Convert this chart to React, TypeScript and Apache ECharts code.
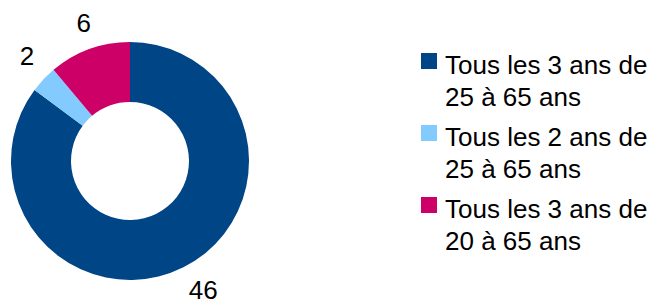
import React, { useEffect, useRef } from "react";
import * as echarts from "echarts";

const categories = [
  "Tous les 3 ans de 25 à 65 ans",
  "Tous les 2 ans de 25 à 65 ans",
  "Tous les 3 ans de 20 à 65 ans",
];
const values = [46, 2, 6];
const colors = ["#004586", "#83CAFF", "#CC0066"];

const FONT = "'Liberation Sans', Arial, sans-serif";

export default function App() {
  const ref = useRef<HTMLDivElement>(null);
  useEffect(() => {
    document.body.style.margin = "0";
    if (!ref.current) return;
    const chart = echarts.init(ref.current, undefined, { renderer: "svg" });
    const labelOffsets = [
      [6, -5],
      [6, -2],
      [5, 3],
    ];
    const data = categories.map((name, i) => ({
      name,
      value: values[i],
      itemStyle: { color: colors[i] },
    }));
    chart.setOption({
      animation: false,
      legend: {
        orient: "vertical",
        left: 421,
        top: 24,
        padding: 0,
        itemWidth: 16,
        itemHeight: 16,
        itemGap: -14,
        icon: "rect",
        selectedMode: false,
        data: categories,
        formatter: (name: string) => {
          const [a, b] = name.split(" de ");
          return "{s| }\n{a|" + a + " de}\n{a|" + b + "}";
        },
        textStyle: {
          fontFamily: FONT,
          fontSize: 26,
          color: "#000",
          rich: {
            s: { fontSize: 10, lineHeight: 40, fontFamily: FONT },
            a: {
              fontFamily: FONT,
              fontSize: 26,
              lineHeight: 32,
              color: "#000",
              padding: [0, 0, 0, 3],
            },
          },
        },
      },
      series: [
        {
          type: "pie",
          center: [130, 161],
          radius: [59, 119],
          startAngle: 90,
          clockwise: true,
          label: { show: false },
          labelLine: { show: false },
          emphasis: { disabled: true },
          data,
        },
        {
          type: "pie",
          center: [130, 161],
          radius: [119, 175],
          startAngle: 90,
          clockwise: true,
          silent: true,
          itemStyle: { color: "rgba(0,0,0,0)" },
          label: {
            show: true,
            position: "inside",
            formatter: "{c}",
            fontFamily: FONT,
            fontSize: 26,
            lineHeight: 20,
            color: "#000",
          },
          labelLine: { show: false },
          emphasis: { disabled: true },
          data: categories.map((name, i) => ({
            name,
            value: values[i],
            label: { offset: labelOffsets[i] },
          })),
        },
      ],
    });
    return () => chart.dispose();
  }, []);
  return <div ref={ref} style={{ width: 653, height: 305 }} />;
}
